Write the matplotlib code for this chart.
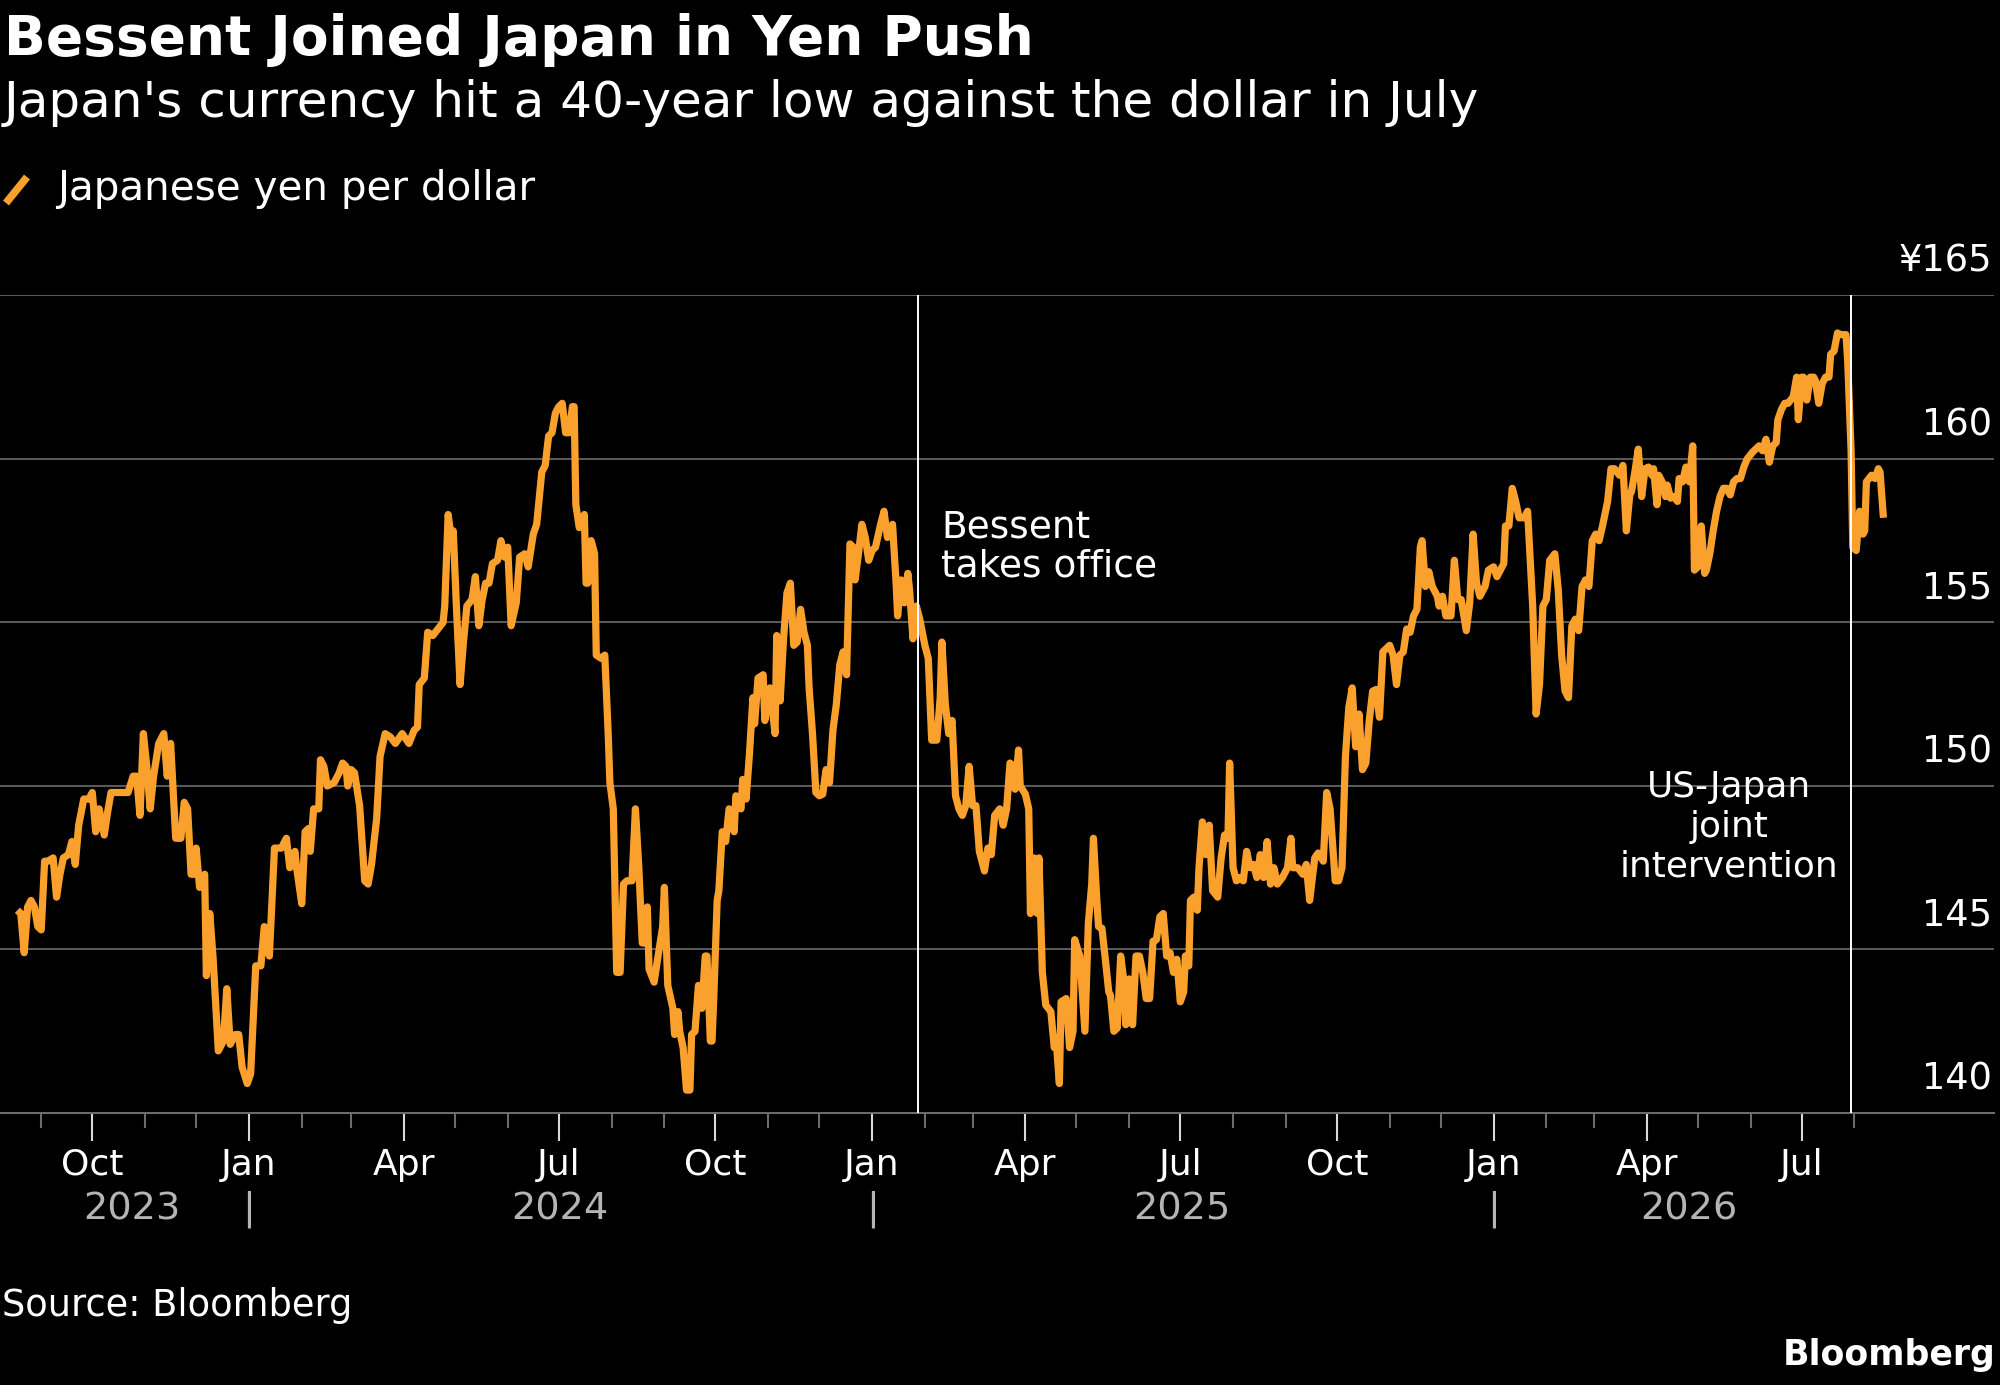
import datetime as dt
import matplotlib
matplotlib.use("Agg")
import matplotlib.pyplot as plt
import matplotlib.dates as mdates
import matplotlib.transforms as mtransforms
from matplotlib.lines import Line2D
from matplotlib.ticker import FixedLocator

plt.rcParams['font.family'] = ['DejaVu Sans']

# ---------------- data ----------------
title = "Bessent Joined Japan in Yen Push"
subtitle = "Japan's currency hit a 40-year low against the dollar in July"
series_name = "Japanese yen per dollar"
source = "Source: Bloomberg"

dates_2023 = ['2023-08-18', '2023-08-20', '2023-08-22', '2023-08-24', '2023-08-26', '2023-08-28', '2023-08-30',
              '2023-09-01', '2023-09-03', '2023-09-05', '2023-09-08', '2023-09-10', '2023-09-12', '2023-09-14',
              '2023-09-17', '2023-09-19', '2023-09-21', '2023-09-23', '2023-09-26', '2023-09-29', '2023-10-01',
              '2023-10-03', '2023-10-05', '2023-10-08', '2023-10-10', '2023-10-12', '2023-10-15', '2023-10-19',
              '2023-10-22', '2023-10-25', '2023-10-27', '2023-10-29', '2023-10-31', '2023-11-02', '2023-11-04',
              '2023-11-06', '2023-11-09', '2023-11-12', '2023-11-14', '2023-11-16', '2023-11-19', '2023-11-22',
              '2023-11-24', '2023-11-26', '2023-11-28', '2023-11-30', '2023-12-01', '2023-12-03', '2023-12-06',
              '2023-12-07', '2023-12-09', '2023-12-11', '2023-12-14', '2023-12-17', '2023-12-19', '2023-12-21',
              '2023-12-24', '2023-12-26', '2023-12-28', '2023-12-31']
yen_2023 = [146.2, 146.1, 144.9, 146.3, 146.5, 146.3, 145.7,
            145.6, 147.7, 147.7, 147.8, 146.6, 147.3, 147.8,
            147.9, 148.3, 147.6, 148.8, 149.6, 149.6, 149.8,
            148.6, 149.3, 148.5, 149.2, 149.8, 149.8, 149.8,
            149.8, 150.3, 150.3, 149.1, 151.6, 150.6, 149.3,
            150.3, 151.3, 151.6, 150.3, 151.3, 148.4, 148.4,
            149.5, 149.3, 147.3, 147.3, 148.1, 146.9, 147.3,
            144.2, 146.1, 144.7, 141.9, 142.2, 143.8, 142.1,
            142.4, 142.4, 141.4, 140.9]

dates_2024 = ['2024-01-02', '2024-01-05', '2024-01-08', '2024-01-10', '2024-01-13', '2024-01-16', '2024-01-20',
              '2024-01-23', '2024-01-25', '2024-01-28', '2024-01-29', '2024-02-01', '2024-02-03', '2024-02-05',
              '2024-02-06', '2024-02-08', '2024-02-11', '2024-02-12', '2024-02-14', '2024-02-16', '2024-02-20',
              '2024-02-23', '2024-02-25', '2024-02-27', '2024-02-28', '2024-03-01', '2024-03-03', '2024-03-06',
              '2024-03-09', '2024-03-11', '2024-03-13', '2024-03-16', '2024-03-18', '2024-03-21', '2024-03-24',
              '2024-03-27', '2024-03-31', '2024-04-04', '2024-04-07', '2024-04-09', '2024-04-10', '2024-04-13',
              '2024-04-15', '2024-04-18', '2024-04-21', '2024-04-24', '2024-04-25', '2024-04-27', '2024-04-29',
              '2024-04-30', '2024-05-02', '2024-05-04', '2024-05-06', '2024-05-08', '2024-05-11', '2024-05-13',
              '2024-05-15', '2024-05-17', '2024-05-19', '2024-05-21', '2024-05-23', '2024-05-26', '2024-05-28',
              '2024-05-30', '2024-06-01', '2024-06-03', '2024-06-06', '2024-06-08', '2024-06-11', '2024-06-13',
              '2024-06-16', '2024-06-18', '2024-06-21', '2024-06-23', '2024-06-25', '2024-06-27', '2024-06-29',
              '2024-07-01', '2024-07-03', '2024-07-05', '2024-07-07', '2024-07-09', '2024-07-10', '2024-07-11',
              '2024-07-13', '2024-07-16', '2024-07-17', '2024-07-18', '2024-07-20', '2024-07-22', '2024-07-23',
              '2024-07-26', '2024-07-28', '2024-07-30', '2024-07-31', '2024-08-02', '2024-08-04', '2024-08-06',
              '2024-08-08', '2024-08-10', '2024-08-13', '2024-08-15', '2024-08-17', '2024-08-19', '2024-08-21',
              '2024-08-22', '2024-08-23', '2024-08-26', '2024-08-28', '2024-08-31', '2024-09-01', '2024-09-03',
              '2024-09-06', '2024-09-07', '2024-09-09', '2024-09-10', '2024-09-12', '2024-09-14', '2024-09-16',
              '2024-09-17', '2024-09-19', '2024-09-21', '2024-09-23', '2024-09-25', '2024-09-26', '2024-09-28',
              '2024-09-29', '2024-09-30', '2024-10-02', '2024-10-03', '2024-10-05', '2024-10-07', '2024-10-09',
              '2024-10-12', '2024-10-13', '2024-10-16', '2024-10-17', '2024-10-19', '2024-10-21', '2024-10-23',
              '2024-10-24', '2024-10-26', '2024-10-29', '2024-10-30', '2024-11-02', '2024-11-05', '2024-11-06',
              '2024-11-08', '2024-11-10', '2024-11-12', '2024-11-14', '2024-11-16', '2024-11-18', '2024-11-20',
              '2024-11-22', '2024-11-24', '2024-11-25', '2024-11-27', '2024-11-29', '2024-12-01', '2024-12-03',
              '2024-12-05', '2024-12-07', '2024-12-09', '2024-12-11', '2024-12-13', '2024-12-15', '2024-12-17',
              '2024-12-19', '2024-12-21', '2024-12-22', '2024-12-24', '2024-12-26', '2024-12-28', '2024-12-30']
yen_2024 = [141.2, 144.5, 144.5, 145.7, 144.8, 148.1, 148.1,
            148.4, 147.5, 148.0, 147.5, 146.4, 148.6, 148.7,
            148.0, 149.3, 149.3, 150.8, 150.6, 150.0, 150.1,
            150.4, 150.7, 150.6, 150.0, 150.5, 150.4, 149.4,
            147.1, 147.0, 147.6, 149.0, 150.9, 151.6, 151.5,
            151.3, 151.6, 151.3, 151.7, 151.8, 153.1, 153.3,
            154.7, 154.6, 154.8, 155.0, 155.5, 158.3, 157.5,
            157.8, 155.3, 153.1, 154.4, 155.5, 155.7, 156.4,
            154.9, 155.7, 156.2, 156.2, 156.8, 156.9, 157.5,
            157.0, 157.3, 154.9, 155.6, 157.0, 157.1, 156.7,
            157.7, 158.0, 159.6, 159.8, 160.7, 160.8, 161.4,
            161.6, 161.7, 160.8, 160.8, 161.6, 161.6, 158.6,
            157.9, 158.3, 156.2, 156.2, 157.5, 157.1, 154.0,
            153.9, 154.0, 151.6, 150.1, 149.3, 144.3, 144.3,
            147.0, 147.1, 147.1, 149.3, 147.5, 145.2, 145.2,
            146.3, 144.4, 144.0, 144.7, 145.7, 146.9, 143.9,
            143.2, 142.4, 143.1, 142.5, 142.0, 140.7, 140.7,
            142.4, 142.5, 143.9, 143.2, 144.8, 144.8, 142.2,
            142.2, 143.5, 146.5, 146.8, 148.6, 148.3, 149.3,
            148.6, 149.7, 149.3, 150.2, 149.6, 151.0, 152.7,
            151.9, 153.3, 153.4, 152.0, 153.0, 151.6, 154.6,
            152.6, 154.5, 155.9, 156.2, 154.3, 154.4, 155.4,
            154.7, 154.3, 153.0, 151.6, 149.8, 149.7, 149.75,
            150.5, 150.1, 151.7, 152.5, 153.7, 154.1, 153.4,
            157.4, 157.3, 156.3, 157.1, 158.0, 157.6, 156.9]

dates_2025 = ['2025-01-01', '2025-01-03', '2025-01-06', '2025-01-08', '2025-01-10', '2025-01-13', '2025-01-15',
              '2025-01-16', '2025-01-18', '2025-01-20', '2025-01-22', '2025-01-23', '2025-01-25', '2025-01-27',
              '2025-01-29', '2025-02-01', '2025-02-03', '2025-02-05', '2025-02-08', '2025-02-10', '2025-02-11',
              '2025-02-13', '2025-02-15', '2025-02-17', '2025-02-19', '2025-02-21', '2025-02-23', '2025-02-25',
              '2025-02-27', '2025-03-01', '2025-03-03', '2025-03-05', '2025-03-08', '2025-03-10', '2025-03-12',
              '2025-03-14', '2025-03-17', '2025-03-19', '2025-03-21', '2025-03-23', '2025-03-25', '2025-03-26',
              '2025-03-28', '2025-03-29', '2025-04-01', '2025-04-03', '2025-04-04', '2025-04-06', '2025-04-08',
              '2025-04-09', '2025-04-11', '2025-04-13', '2025-04-16', '2025-04-18', '2025-04-19', '2025-04-21',
              '2025-04-22', '2025-04-25', '2025-04-27', '2025-04-29', '2025-04-30', '2025-05-03', '2025-05-06',
              '2025-05-08', '2025-05-10', '2025-05-11', '2025-05-13', '2025-05-14', '2025-05-16', '2025-05-18',
              '2025-05-20', '2025-05-21', '2025-05-23', '2025-05-25', '2025-05-27', '2025-05-29', '2025-05-30',
              '2025-06-01', '2025-06-03', '2025-06-05', '2025-06-07', '2025-06-09', '2025-06-11', '2025-06-13',
              '2025-06-15', '2025-06-17', '2025-06-19', '2025-06-21', '2025-06-23', '2025-06-25', '2025-06-27',
              '2025-06-29', '2025-07-01', '2025-07-03', '2025-07-04', '2025-07-06', '2025-07-07', '2025-07-09',
              '2025-07-11', '2025-07-12', '2025-07-14', '2025-07-16', '2025-07-18', '2025-07-20', '2025-07-23',
              '2025-07-25', '2025-07-27', '2025-07-29', '2025-07-30', '2025-08-01', '2025-08-03', '2025-08-05',
              '2025-08-07', '2025-08-09', '2025-08-11', '2025-08-13', '2025-08-15', '2025-08-17', '2025-08-19',
              '2025-08-21', '2025-08-23', '2025-08-25', '2025-08-27', '2025-08-30', '2025-09-02', '2025-09-04',
              '2025-09-05', '2025-09-08', '2025-09-11', '2025-09-13', '2025-09-15', '2025-09-18', '2025-09-20',
              '2025-09-23', '2025-09-25', '2025-09-27', '2025-09-30', '2025-10-02', '2025-10-04', '2025-10-06',
              '2025-10-08', '2025-10-10', '2025-10-12', '2025-10-14', '2025-10-16', '2025-10-18', '2025-10-20',
              '2025-10-22', '2025-10-24', '2025-10-26', '2025-10-28', '2025-10-30', '2025-11-01', '2025-11-03',
              '2025-11-05', '2025-11-07', '2025-11-09', '2025-11-11', '2025-11-13', '2025-11-15', '2025-11-17',
              '2025-11-19', '2025-11-20', '2025-11-22', '2025-11-24', '2025-11-26', '2025-11-29', '2025-11-30',
              '2025-12-02', '2025-12-04', '2025-12-07', '2025-12-09', '2025-12-11', '2025-12-13', '2025-12-16',
              '2025-12-18', '2025-12-20', '2025-12-22', '2025-12-24', '2025-12-27', '2025-12-29']
yen_2025 = [157.2, 157.3, 158.0, 158.4, 157.6, 158.0, 156.3,
            155.2, 156.3, 155.6, 156.5, 156.0, 154.5, 155.5,
            155.1, 154.3, 153.9, 151.4, 151.4, 152.7, 154.4,
            152.5, 151.6, 152.0, 149.7, 149.3, 149.1, 149.4,
            150.6, 149.4, 149.4, 148.0, 147.4, 148.1, 147.9,
            149.1, 149.3, 148.8, 149.3, 150.7, 150.6, 149.9,
            151.1, 150.0, 149.75, 149.3, 146.1, 147.8, 146.1,
            147.8, 144.3, 143.3, 143.1, 142.0, 142.3, 140.9,
            143.4, 143.5, 142.0, 142.5, 145.3, 144.8, 142.5,
            145.8, 147.0, 148.4, 146.5, 145.7, 145.65, 144.7,
            143.7, 143.6, 142.5, 142.6, 144.8, 144.0, 142.7,
            144.1, 142.7, 144.8, 144.8, 144.3, 143.5, 143.5,
            145.25, 145.3, 146.0, 146.1, 144.8, 144.9, 144.3,
            144.7, 143.4, 143.7, 144.8, 144.5, 146.5, 146.6,
            146.2, 147.5, 148.9, 147.9, 148.8, 146.8, 146.6,
            147.8, 148.5, 148.4, 150.7, 147.5, 147.1, 147.2,
            147.1, 148.0, 147.5, 147.6, 147.2, 147.9, 147.2,
            148.3, 147.0, 147.5, 147.0, 147.2, 147.5, 148.4,
            147.5, 147.5, 147.3, 147.6, 146.5, 147.8, 147.95,
            147.7, 149.8, 149.3, 147.1, 147.1, 147.5, 150.9,
            152.4, 153.0, 151.2, 152.2, 150.5, 150.7, 152.0,
            152.9, 152.95, 152.1, 154.1, 154.2, 154.3, 154.0,
            153.1, 154.0, 154.1, 154.8, 154.7, 155.2, 155.4,
            157.3, 157.5, 156.1, 156.55, 156.1, 155.8, 155.5,
            155.8, 155.2, 155.2, 156.9, 155.7, 155.7, 154.75,
            155.6, 157.7, 156.2, 155.8, 156.1, 156.6]

dates_2026 = ['2026-01-01', '2026-01-03', '2026-01-05', '2026-01-07', '2026-01-08', '2026-01-10', '2026-01-12',
              '2026-01-14', '2026-01-16', '2026-01-19', '2026-01-21', '2026-01-24', '2026-01-26', '2026-01-28',
              '2026-01-30', '2026-02-01', '2026-02-03', '2026-02-06', '2026-02-08', '2026-02-10', '2026-02-12',
              '2026-02-14', '2026-02-16', '2026-02-18', '2026-02-20', '2026-02-22', '2026-02-24', '2026-02-26',
              '2026-02-28', '2026-03-02', '2026-03-04', '2026-03-06', '2026-03-09', '2026-03-11', '2026-03-13',
              '2026-03-16', '2026-03-18', '2026-03-20', '2026-03-22', '2026-03-23', '2026-03-25', '2026-03-27',
              '2026-03-29', '2026-03-31', '2026-04-02', '2026-04-04', '2026-04-05', '2026-04-07', '2026-04-08',
              '2026-04-10', '2026-04-12', '2026-04-13', '2026-04-15', '2026-04-17', '2026-04-19', '2026-04-20',
              '2026-04-22', '2026-04-24', '2026-04-26', '2026-04-28', '2026-04-29', '2026-05-01', '2026-05-03',
              '2026-05-05', '2026-05-06', '2026-05-08', '2026-05-10', '2026-05-12', '2026-05-14', '2026-05-16',
              '2026-05-18', '2026-05-20', '2026-05-22', '2026-05-24', '2026-05-26', '2026-05-28', '2026-05-30',
              '2026-06-02', '2026-06-04', '2026-06-06', '2026-06-08', '2026-06-10', '2026-06-12', '2026-06-14',
              '2026-06-16', '2026-06-17', '2026-06-19', '2026-06-21', '2026-06-23', '2026-06-26', '2026-06-28',
              '2026-06-29', '2026-07-01', '2026-07-02', '2026-07-04', '2026-07-06', '2026-07-08', '2026-07-09',
              '2026-07-11', '2026-07-13', '2026-07-15', '2026-07-17', '2026-07-18', '2026-07-20', '2026-07-22',
              '2026-07-24', '2026-07-27', '2026-07-28', '2026-07-30', '2026-07-31', '2026-08-02', '2026-08-04',
              '2026-08-06', '2026-08-07', '2026-08-08', '2026-08-11', '2026-08-13', '2026-08-15', '2026-08-16',
              '2026-08-18']
yen_2026 = [156.7, 156.4, 156.6, 156.8, 157.95, 157.95, 159.1,
            158.7, 158.2, 158.2, 158.4, 155.5, 152.2, 153.1,
            155.5, 155.7, 156.9, 157.1, 156.0, 154.0, 152.9,
            152.7, 154.9, 155.1, 154.75, 156.1, 156.3, 156.1,
            157.5, 157.7, 157.5, 157.95, 158.7, 159.7, 159.7,
            159.5, 159.8, 157.8, 158.9, 159.0, 159.6, 160.3,
            158.85, 159.7, 159.75, 159.5, 159.7, 158.6, 159.5,
            159.3, 158.85, 159.2, 158.8, 158.85, 158.7, 159.4,
            159.3, 159.75, 159.3, 160.4, 156.6, 156.7, 157.95,
            156.5, 156.6, 157.1, 157.8, 158.4, 158.85, 159.1,
            159.1, 158.9, 159.3, 159.4, 159.4, 159.75, 160.0,
            160.2, 160.3, 160.4, 160.25, 160.6, 159.9, 160.4,
            160.5, 161.2, 161.5, 161.7, 161.7, 161.9, 162.5,
            161.2, 162.5, 162.5, 161.8, 162.5, 162.5, 162.4,
            161.7, 162.3, 162.5, 162.5, 163.2, 163.3, 163.85,
            163.8, 163.8, 163.0, 160.25, 157.3, 157.2, 158.4,
            157.7, 157.8, 159.3, 159.5, 159.4, 159.7, 159.6,
            158.2]

event_dates = ['2025-01-28', '2026-07-30']
event_labels = ['Bessent\ntakes office', 'US-Japan\njoint\nintervention']

y_ticks = [140, 145, 150, 155, 160, 165]
y_tick_labels = ['140', '145', '150', '155', '160', '¥165']

years = [2023, 2024, 2025, 2026]

# ---------------- styling ----------------
BG = 'black'
ORANGE = '#F9A12C'
GRID = '#6b6b6b'
YEAR_GRAY = '#b4b4b4'

W, H = 2000, 1385
fig = plt.figure(figsize=(W / 100, H / 100), dpi=100, facecolor=BG)

ax_top_px, ax_bot_px, ax_right_px = 295.4, 1113.0, 1994.0
ax = fig.add_axes([0, 1 - ax_bot_px / H, ax_right_px / W, (ax_bot_px - ax_top_px) / H])
ax.set_facecolor(BG)

to_dt = lambda s: dt.datetime.strptime(s, '%Y-%m-%d')
all_dates = [to_dt(d) for d in dates_2023 + dates_2024 + dates_2025 + dates_2026]
all_yen = yen_2023 + yen_2024 + yen_2025 + yen_2026

# x scale: pixel layout of the reference
px_per_day = 1.7026
oct_anchor = mdates.date2num(dt.datetime(2023, 10, 1))
x_left = oct_anchor - 92.3 / px_per_day
x_right = x_left + ax_right_px / px_per_day
ax.set_xlim(x_left, x_right)
ax.set_ylim(y_ticks[0], y_ticks[-1])

# grid lines
for v in y_ticks[1:]:
    ax.axhline(v, color=GRID, lw=1.2, zorder=1)

for s in ['top', 'left', 'right']:
    ax.spines[s].set_visible(False)
ax.spines['bottom'].set_color(GRID)
ax.spines['bottom'].set_linewidth(1.5)

# data line
ax.plot(all_dates, all_yen, color=ORANGE, lw=5.2, solid_joinstyle='round',
        solid_capstyle='butt', zorder=3, clip_on=False)

# event lines
for d in event_dates:
    ax.vlines(to_dt(d), y_ticks[0], y_ticks[-1], color='white', lw=1.4, zorder=4)

# event annotations
ax.annotate(event_labels[0], xy=(to_dt(event_dates[0]), 157.3), xycoords='data',
            xytext=(23, 0), textcoords='offset pixels', ha='left', va='center',
            color='white', fontsize=27, linespacing=1.1)
ax.annotate(event_labels[1], xy=(to_dt(event_dates[1]), 148.75), xycoords='data',
            xytext=(-122, 0), textcoords='offset pixels', ha='center', va='center',
            color='white', fontsize=25.8, linespacing=1.2, multialignment='center')

# y labels (above gridlines, right side)
ax.set_yticks([])
for v, lab in zip(y_ticks, y_tick_labels):
    ax.annotate(lab, xy=(1, v), xycoords=('axes fraction', 'data'),
                xytext=(-2, 34), textcoords='offset pixels', ha='right', va='center',
                color='white', fontsize=26.5)

# x ticks: monthly minor, quarterly major (within data range)
start, end = all_dates[0], all_dates[-1]
month_starts = []
y_, m_ = start.year, start.month + 1
while dt.datetime(y_, m_, 1) <= end:
    month_starts.append(dt.datetime(y_, m_, 1))
    m_ += 1
    if m_ > 12:
        m_, y_ = 1, y_ + 1
major = [d for d in month_starts if d.month in (1, 4, 7, 10)]
minor = [d for d in month_starts if d.month not in (1, 4, 7, 10)]
ax.xaxis.set_major_locator(FixedLocator(mdates.date2num(major)))
ax.xaxis.set_minor_locator(FixedLocator(mdates.date2num(minor)))
ax.xaxis.set_major_formatter(mdates.DateFormatter('%b'))
ax.tick_params(axis='x', which='major', length=20, width=1.5, color='#d8d8d8',
               labelsize=26, labelcolor='white', pad=5)
ax.tick_params(axis='x', which='minor', length=11, width=1.5, color=GRID)

# year labels + separators
trans = mtransforms.blended_transform_factory(ax.transData, ax.transAxes)
year_y = (ax_bot_px - 1209) / (ax_bot_px - ax_top_px)
for yr in years:
    a = max(start, dt.datetime(yr, 1, 1))
    b = min(end, dt.datetime(yr, 12, 31))
    mid = a + (b - a) / 2
    ax.text(mid, year_y, str(yr), transform=trans, ha='center', va='center',
            color=YEAR_GRAY, fontsize=27.5)
    if yr > years[0]:
        ax.text(dt.datetime(yr, 1, 1), year_y, '|', transform=trans, ha='center',
                va='center', color=YEAR_GRAY, fontsize=27.5)

# titles
fig.text(4 / W, 1 - 55 / H, title, color='white', fontsize=39.6, fontweight='bold', va='baseline')
fig.text(4 / W, 1 - 117 / H, subtitle, color='white', fontsize=36.1, va='baseline')

# legend
fig.add_artist(Line2D([6 / W, 27 / W], [1 - 203 / H, 1 - 177 / H], color=ORANGE, lw=5.5,
                      solid_capstyle='butt', transform=fig.transFigure))
fig.text(57 / W, 1 - 189 / H, series_name, color='white', fontsize=29.2, va='center')

# footer
fig.text(2 / W, 1 - 1306 / H, source, color='white', fontsize=26.5, va='center')
fig.text(1996 / W, 1 - 1355 / H, 'Bloomberg', color='white', fontsize=25, fontweight='bold',
         ha='right', va='center')

fig.savefig('out.png', dpi=100, facecolor=BG)
